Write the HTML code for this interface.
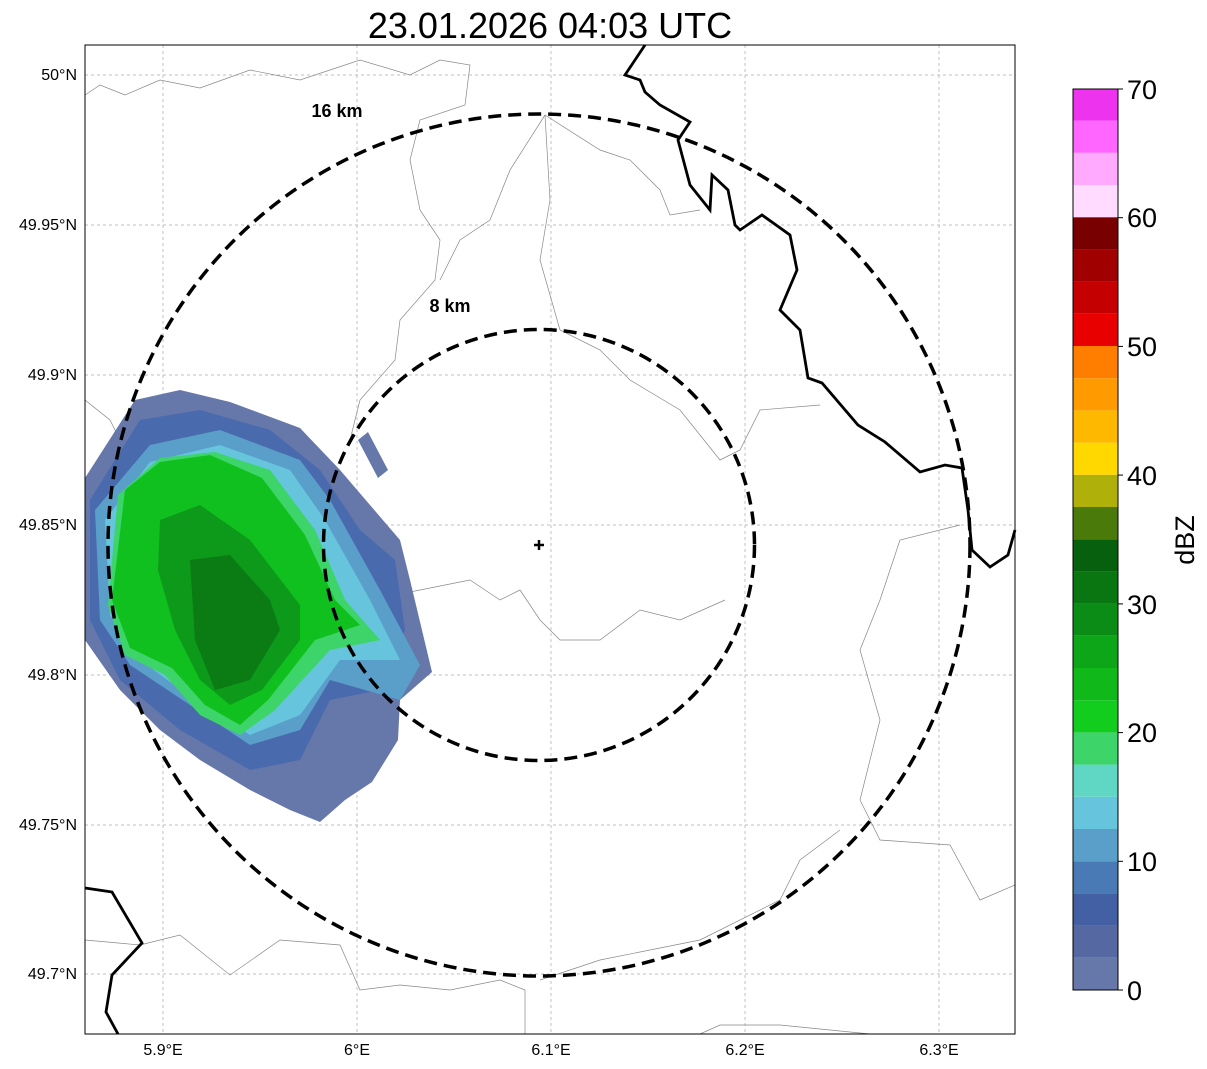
<!DOCTYPE html>
<html><head><meta charset="utf-8"><style>
body{margin:0;background:#fff;}
svg{display:block;font-family:"Liberation Sans",sans-serif;}
</style></head><body>
<svg width="1207" height="1069" viewBox="0 0 1207 1069">
<rect width="1207" height="1069" fill="#fff"/>
<text x="550" y="38" font-size="36" text-anchor="middle">23.01.2026 04:03 UTC</text>
<defs><clipPath id="c"><rect x="85" y="45" width="930" height="989"/></clipPath></defs>
<g clip-path="url(#c)">
<g stroke="#aaa" stroke-width="0.7" stroke-dasharray="3,3">
<line x1="163" y1="45" x2="163" y2="1034"/><line x1="357" y1="45" x2="357" y2="1034"/><line x1="551" y1="45" x2="551" y2="1034"/><line x1="745" y1="45" x2="745" y2="1034"/><line x1="939" y1="45" x2="939" y2="1034"/>
<line x1="85" y1="75" x2="1015" y2="75"/><line x1="85" y1="225" x2="1015" y2="225"/><line x1="85" y1="375" x2="1015" y2="375"/><line x1="85" y1="525" x2="1015" y2="525"/><line x1="85" y1="675" x2="1015" y2="675"/><line x1="85" y1="825" x2="1015" y2="825"/><line x1="85" y1="974" x2="1015" y2="974"/>
</g>
<g fill="none" stroke="#888" stroke-width="0.7">
<path d="M85,95 L100,85 L125,95 L160,80 L200,88 L250,70 L300,80 L360,60 L410,75 L440,60 L470,65 L465,105 L420,120 L410,160 L420,210 L440,240 L435,280 L400,320 L395,360 L360,400 L350,440"/>
<path d="M545,115 L510,170 L490,220 L460,240 L440,280"/>
<path d="M545,115 L600,150 L630,160 L660,190 L670,215 L700,210"/>
<path d="M545,115 L550,200 L540,260 L560,330 L600,350 L630,380 L680,410 L720,460 L740,450 L760,410 L820,405"/>
<path d="M330,580 L370,600 L420,590 L470,580 L500,600 L520,590 L540,620 L560,640 L600,640 L640,610 L680,620 L725,600"/>
<path d="M85,400 L110,420 L130,460"/>
<path d="M960,525 L900,540 L880,600 L860,650 L880,720 L860,800 L880,840 L950,845 L980,900 L1015,885"/>
<path d="M85,940 L140,945 L180,935 L230,975 L280,940 L340,945 L360,990 L400,985 L450,990 L500,980 L525,990 L525,1034"/>
<path d="M700,1034 L720,1025 L780,1025 L830,1030 L870,1034"/>
<path d="M540,980 L600,960 L700,940 L780,900 L800,860 L840,830"/>
</g>
<polygon fill="#6677aa" points="85,478 135,400 180,390 230,402 300,428 340,470 400,540 410,580 432,672 400,700 398,740 372,782 345,800 320,822 290,810 250,790 200,760 160,730 120,690 85,640"/>
<polygon fill="#4a6aae" points="90,500 140,420 200,410 270,430 320,470 360,530 395,560 405,630 380,690 330,700 300,760 250,770 180,730 120,680 90,620"/>
<polygon fill="#5a9fc9" points="95,510 150,445 220,430 300,460 330,500 380,590 420,665 400,700 330,680 300,730 250,745 190,705 130,665 100,620"/>
<polygon fill="#66c4dc" points="105,520 150,462 220,445 290,470 325,520 370,600 400,660 340,660 300,715 250,735 195,700 140,660 110,615"/>
<polygon fill="#3dd46a" points="118,495 160,458 215,452 270,470 315,530 345,600 380,640 330,650 275,710 240,735 200,715 165,675 125,655 108,605"/>
<polygon fill="#10c01e" points="125,490 160,462 210,455 262,478 305,535 335,600 360,625 315,640 268,700 240,725 205,705 172,668 130,648 112,600"/>
<polygon fill="#0d9a1a" points="160,520 200,505 250,540 300,605 300,640 262,690 230,705 200,680 175,630 158,570"/>
<polygon fill="#0b7b14" points="190,560 230,555 270,600 280,630 250,680 215,690 195,640"/>
<polygon fill="#6677aa" points="358,440 368,432 388,470 378,478"/>
</g>
<g fill="none" stroke="#000" stroke-width="2.8">
<path d="M645,45 L635,60 L625,75 L640,80 L645,92 L660,105 L690,122 L678,140 L690,185 L710,210 L712,175 L728,190 L735,225 L740,230 L762,215 L790,235 L797,270 L780,310 L800,330 L808,378 L822,383 L858,425 L885,442 L920,472 L945,465 L962,468 L968,510 L972,550 L990,567 L1008,555 L1015,530"/>
<path d="M85,888 L112,892 L142,943 L112,975 L106,1012 L118,1034"/>
</g>
<g fill="none" stroke="#000" stroke-width="3.5" stroke-dasharray="13,7">
<ellipse cx="539" cy="545" rx="431" ry="431"/>
<ellipse cx="539" cy="545" rx="215.5" ry="215.5"/>
</g>
<path d="M539,540 V550 M534,545 H544" stroke="#000" stroke-width="2.5"/>
<text x="337" y="117" font-size="18" font-weight="bold" text-anchor="middle">16 km</text>
<text x="450" y="312" font-size="18" font-weight="bold" text-anchor="middle">8 km</text>
<rect x="85" y="45" width="930" height="989" fill="none" stroke="#000" stroke-width="1"/>
<g font-size="16" text-anchor="middle">
<text x="163" y="1055">5.9°E</text><text x="357" y="1055">6°E</text><text x="551" y="1055">6.1°E</text><text x="745" y="1055">6.2°E</text><text x="939" y="1055">6.3°E</text>
</g>
<g font-size="16" text-anchor="end">
<text x="77" y="80">50°N</text><text x="77" y="230">49.95°N</text><text x="77" y="380">49.9°N</text><text x="77" y="530">49.85°N</text><text x="77" y="680">49.8°N</text><text x="77" y="830">49.75°N</text><text x="77" y="979">49.7°N</text>
</g>
<g>
<rect x="1073" y="957.8" width="45" height="32.2" fill="#6677aa"/>
<rect x="1073" y="925.6" width="45" height="32.2" fill="#5568a2"/>
<rect x="1073" y="893.4" width="45" height="32.2" fill="#4460a4"/>
<rect x="1073" y="861.2" width="45" height="32.2" fill="#4a7ab5"/>
<rect x="1073" y="829.0" width="45" height="32.2" fill="#5a9fc9"/>
<rect x="1073" y="796.8" width="45" height="32.2" fill="#66c4dc"/>
<rect x="1073" y="764.6" width="45" height="32.2" fill="#60d6c4"/>
<rect x="1073" y="732.4" width="45" height="32.2" fill="#3dd46a"/>
<rect x="1073" y="700.2" width="45" height="32.2" fill="#12cc1e"/>
<rect x="1073" y="668.0" width="45" height="32.2" fill="#10b81a"/>
<rect x="1073" y="635.8" width="45" height="32.2" fill="#0da618"/>
<rect x="1073" y="603.6" width="45" height="32.2" fill="#0b8c16"/>
<rect x="1073" y="571.4" width="45" height="32.2" fill="#0a7612"/>
<rect x="1073" y="539.2" width="45" height="32.2" fill="#06600e"/>
<rect x="1073" y="507.0" width="45" height="32.2" fill="#4a7a0a"/>
<rect x="1073" y="474.8" width="45" height="32.2" fill="#b0b00a"/>
<rect x="1073" y="442.6" width="45" height="32.2" fill="#ffd800"/>
<rect x="1073" y="410.4" width="45" height="32.2" fill="#ffb800"/>
<rect x="1073" y="378.2" width="45" height="32.2" fill="#ff9a00"/>
<rect x="1073" y="346.0" width="45" height="32.2" fill="#ff7e00"/>
<rect x="1073" y="313.8" width="45" height="32.2" fill="#e80000"/>
<rect x="1073" y="281.6" width="45" height="32.2" fill="#c40000"/>
<rect x="1073" y="249.4" width="45" height="32.2" fill="#a00000"/>
<rect x="1073" y="217.2" width="45" height="32.2" fill="#780000"/>
<rect x="1073" y="185.0" width="45" height="32.2" fill="#ffdcff"/>
<rect x="1073" y="152.8" width="45" height="32.2" fill="#ffaaff"/>
<rect x="1073" y="120.6" width="45" height="32.2" fill="#ff66ff"/>
<rect x="1073" y="89" width="45" height="31.6" fill="#ee33ee"/>
<rect x="1073" y="89" width="45" height="901" fill="none" stroke="#000" stroke-width="1"/>
<g stroke="#000" stroke-width="1">
<line x1="1118" y1="990" x2="1123" y2="990"/><line x1="1118" y1="861.3" x2="1123" y2="861.3"/><line x1="1118" y1="732.6" x2="1123" y2="732.6"/><line x1="1118" y1="603.9" x2="1123" y2="603.9"/><line x1="1118" y1="475.1" x2="1123" y2="475.1"/><line x1="1118" y1="346.4" x2="1123" y2="346.4"/><line x1="1118" y1="217.7" x2="1123" y2="217.7"/><line x1="1118" y1="89" x2="1123" y2="89"/>
</g>
<g font-size="27">
<text x="1127" y="1000">0</text><text x="1127" y="871">10</text><text x="1127" y="742">20</text><text x="1127" y="614">30</text><text x="1127" y="485">40</text><text x="1127" y="356">50</text><text x="1127" y="227">60</text><text x="1127" y="99">70</text>
</g>
<text transform="translate(1194,540) rotate(-90)" font-size="27" text-anchor="middle">dBZ</text>
</g>
</svg>
</body></html>
